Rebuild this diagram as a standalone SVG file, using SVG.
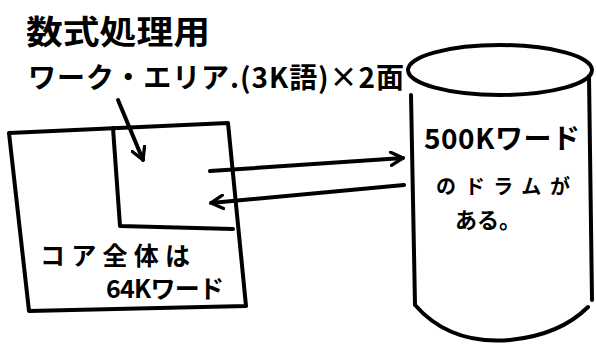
<svg xmlns="http://www.w3.org/2000/svg" width="596" height="345" viewBox="0 0 596 345">
<style>
.ln{fill:none;stroke:#000;stroke-width:4;stroke-linecap:round;stroke-linejoin:round}
.t{font-family:"Noto Sans CJK JP","Noto Sans",sans-serif;font-weight:bold;fill:#000}
</style>
<defs>
<marker id="ah" viewBox="0 0 12 12" refX="10" refY="6" markerWidth="4" markerHeight="4" orient="auto" markerUnits="strokeWidth">
<path d="M1,1 L10,6 L1,11" fill="none" stroke="#000" stroke-width="2.5" stroke-linecap="round" stroke-linejoin="round"/>
</marker>
</defs>
<rect width="596" height="345" fill="#fff"/>
<g id="label">
<text class="t" x="26" y="44" font-size="33" textLength="184" lengthAdjust="spacingAndGlyphs">数式処理用</text>
<text class="t" x="28" y="88" font-size="28" textLength="376" lengthAdjust="spacing">ワーク・エリア.(3K語)×2面</text>
</g>
<g id="core">
<path class="ln" d="M9,133 L228,123 L246,306 L29,311 Z"/>
<path class="ln" d="M113,128 L120,226 L233,229"/>
<text class="t" x="40" y="265" font-size="25" textLength="150" lengthAdjust="spacing">コア全体は</text>
<text class="t" x="106" y="298" font-size="25" textLength="118" lengthAdjust="spacing">64Kワード</text>
</g>
<g id="drum">
<ellipse class="ln" cx="500" cy="70" rx="92" ry="25"/>
<path class="ln" d="M411,95 L415,305 Q450,345 510,340 Q560,335 588,307"/>
<path class="ln" d="M589,76 L592,300"/>
<text class="t" x="424" y="149" font-size="28" textLength="156" lengthAdjust="spacing">500Kワード</text>
<text class="t" x="436" y="194" font-size="20" textLength="134" lengthAdjust="spacing">のドラムが</text>
<text class="t" x="455" y="228" font-size="22" textLength="66" lengthAdjust="spacing">ある。</text>
</g>
<g id="connectors">
<path class="ln" d="M118,100 L143,160" marker-end="url(#ah)"/>
<path class="ln" d="M210,171 L403,158" marker-end="url(#ah)"/>
<path class="ln" d="M404,185 L211,203" marker-end="url(#ah)"/>
</g>
</svg>
